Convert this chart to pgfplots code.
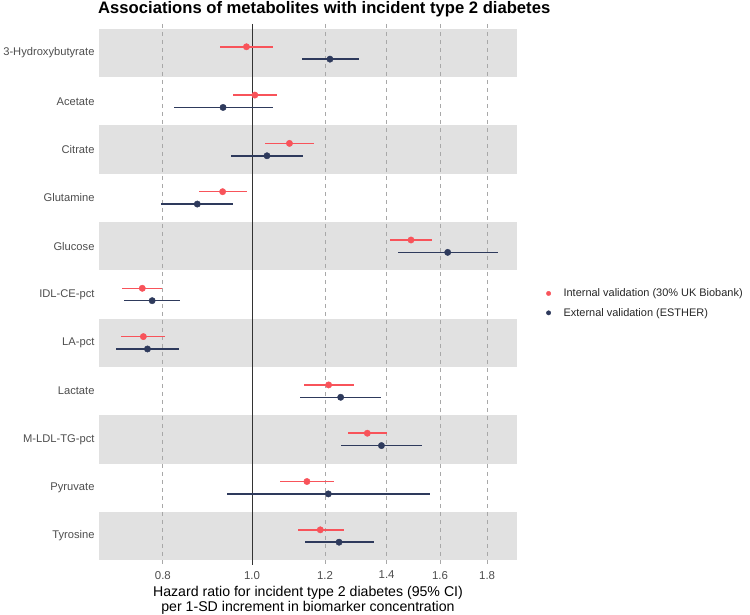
\documentclass[border=0pt]{standalone}
\usepackage{pgfplots}
\pgfplotsset{compat=1.18}
\usepackage{pgfplotstable}
\usepackage{fontspec}
\setmainfont{Liberation Sans}
\definecolor{intred}{HTML}{F8535A}
\definecolor{extnavy}{HTML}{2E3A5C}
\definecolor{bandc}{HTML}{E1E1E1}
\definecolor{gridc}{HTML}{A8A8A8}
\definecolor{ticktext}{HTML}{4D4D4D}

% internal validation (30% UK Biobank)
\pgfplotstableread{
y      x      lo     hi
0.872  0.986  0.923  1.055
1.872  1.007  0.954  1.065
2.872  1.098  1.032  1.168
3.872  0.929  0.876  0.988
4.872  1.488  1.412  1.570
5.872  0.760  0.723  0.799
6.872  0.762  0.721  0.805
7.872  1.211  1.138  1.289
8.872  1.334  1.271  1.400
9.872  1.147  1.072  1.227
10.872 1.186  1.123  1.257
}\internaltab

% external validation (ESTHER)
\pgfplotstableread{
y      x      lo     hi
1.128  1.215  1.132  1.305
2.128  0.930  0.822  1.053
3.128  1.038  0.949  1.137
4.128  0.872  0.797  0.953
5.128  1.631  1.439  1.848
6.128  0.779  0.726  0.836
7.128  0.770  0.712  0.832
8.128  1.248  1.128  1.382
9.128  1.382  1.249  1.530
10.128 1.210  0.940  1.560
11.128 1.243  1.141  1.356
}\externaltab

\begin{document}
\begin{tikzpicture}[x=1bp,y=1bp]
\begin{axis}[
  at={(99bp,50bp)}, anchor=south west,
  scale only axis, width=418bp, height=541bp,
  set layers,
  xmode=log, xmin=0.682, xmax=1.94,
  ymin=0.4, ymax=11.6, y dir=reverse,
  axis line style={draw=none},
  tick style={draw=none},
  ytick={1,2,3,4,5,6,7,8,9,10,11},
  yticklabels={3-Hydroxybutyrate,Acetate,Citrate,Glutamine,Glucose,IDL-CE-pct,LA-pct,Lactate,M-LDL-TG-pct,Pyruvate,Tyrosine},
  xtick={0.8,1.2,1.4,1.6,1.8},
  xticklabels={0.8,1.2,1.4,1.6,1.8},
  extra x ticks={1},
  extra x tick labels={1.0},
  extra x tick style={major grid style={solid, draw=black!80, line width=0.9bp}},
  xmajorgrids,
  major grid style={draw=gridc, dash pattern=on 4bp off 4bp, line width=0.7bp},
  xticklabel style={font=\fontsize{11.5}{13}\selectfont, text=ticktext, yshift=-2.5bp},
  yticklabel style={font=\fontsize{11.2}{13}\selectfont, text=ticktext, xshift=-1bp},
  xlabel={Hazard ratio for incident type 2 diabetes (95\% CI)\\per 1-SD increment in biomarker concentration},
  xlabel style={at={(axis description cs:0.5,0)}, anchor=north, yshift=-17.5bp, align=center, font=\fontsize{14.2}{15.5}\selectfont},
  legend style={at={(axis description cs:1,0.484)}, anchor=west, xshift=26bp, draw=none, fill=none,
    font=\fontsize{11}{13}\selectfont, row sep=6bp, text=black!85},
  legend cell align=left,
  legend image code/.code={\fill (0bp,0bp) circle (2.2bp); \path[draw=none] (-2.2bp,0bp) -- (13bp,0bp);},
]
\begin{pgfonlayer}{axis background}
\fill[bandc] (axis cs:0.682,0.5) rectangle (axis cs:1.94,1.5);
\fill[bandc] (axis cs:0.682,2.5) rectangle (axis cs:1.94,3.5);
\fill[bandc] (axis cs:0.682,4.5) rectangle (axis cs:1.94,5.5);
\fill[bandc] (axis cs:0.682,6.5) rectangle (axis cs:1.94,7.5);
\fill[bandc] (axis cs:0.682,8.5) rectangle (axis cs:1.94,9.5);
\fill[bandc] (axis cs:0.682,10.5) rectangle (axis cs:1.94,11.5);
\end{pgfonlayer}

\addplot[only marks, mark=*, mark size=3.2bp, color=intred,
  error bars/.cd, x dir=both, x explicit, error mark=none,
  error bar style={line width=1.5bp, color=intred}]
  table[x=x, y=y, x error plus expr=\thisrow{hi}-\thisrow{x}, x error minus expr=\thisrow{x}-\thisrow{lo}] {\internaltab};
\addlegendentry{Internal validation (30\% UK Biobank)}

\addplot[only marks, mark=*, mark size=3.2bp, color=extnavy,
  error bars/.cd, x dir=both, x explicit, error mark=none,
  error bar style={line width=1.5bp, color=extnavy}]
  table[x=x, y=y, x error plus expr=\thisrow{hi}-\thisrow{x}, x error minus expr=\thisrow{x}-\thisrow{lo}] {\externaltab};
\addlegendentry{External validation (ESTHER)}
\end{axis}
\node[anchor=base west, font=\bfseries\fontsize{16.7}{19}\selectfont, inner sep=0pt] at (98,601) {Associations of metabolites with incident type 2 diabetes};
\pgfresetboundingbox
\useasboundingbox (0,0) rectangle (750,615);
\end{tikzpicture}
\end{document}
